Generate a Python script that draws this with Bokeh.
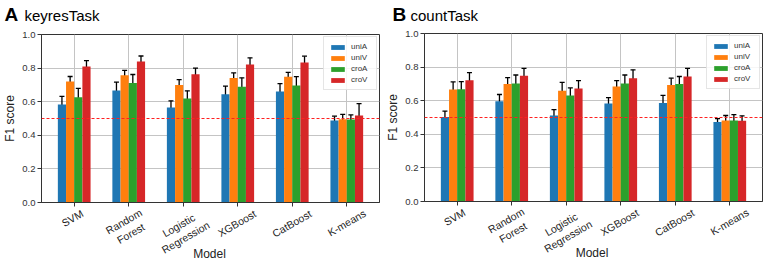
import math

from bokeh.core.properties import value
from bokeh.embed import file_html
from bokeh.layouts import column, row
from bokeh.models import (ColumnDataSource, FixedTicker, PrintfTickFormatter,
                          Range1d, Span, TeeHead, Whisker)
from bokeh.plotting import figure
from bokeh.resources import INLINE
from bokeh.transform import dodge

# ---------------------------------------------------------------- data
models = ["SVM", "Random\nForest", "Logistic\nRegression", "XGBoost", "CatBoost", "K-means"]
series = ["uniA", "uniV", "croA", "croV"]
series_colors = ["#1f77b4", "#ff7f0e", "#2ca02c", "#d62728"]
y_ticks = [0.0, 0.2, 0.4, 0.6, 0.8, 1.0]
chance_level = 0.5

# keyresTask: mean F1 and error per model
keyres_uniA = [0.584, 0.667, 0.565, 0.645, 0.661, 0.488]
keyres_uniA_err = [0.048, 0.050, 0.040, 0.048, 0.046, 0.026]
keyres_uniV = [0.720, 0.757, 0.700, 0.741, 0.748, 0.496]
keyres_uniV_err = [0.030, 0.029, 0.031, 0.030, 0.026, 0.028]
keyres_croA = [0.626, 0.712, 0.619, 0.689, 0.697, 0.494]
keyres_croA_err = [0.053, 0.050, 0.046, 0.053, 0.052, 0.027]
keyres_croV = [0.810, 0.839, 0.764, 0.821, 0.833, 0.518]
keyres_croV_err = [0.034, 0.033, 0.036, 0.040, 0.038, 0.070]

# countTask: mean F1 and error per model
count_uniA = [0.503, 0.597, 0.512, 0.583, 0.587, 0.473]
count_uniA_err = [0.035, 0.040, 0.035, 0.035, 0.045, 0.020]
count_uniV = [0.667, 0.700, 0.659, 0.685, 0.694, 0.482]
count_uniV_err = [0.045, 0.037, 0.050, 0.035, 0.040, 0.030]
count_croA = [0.668, 0.703, 0.631, 0.703, 0.699, 0.482]
count_croA_err = [0.045, 0.050, 0.045, 0.050, 0.045, 0.035]
count_croV = [0.722, 0.748, 0.673, 0.734, 0.744, 0.480]
count_croV_err = [0.045, 0.045, 0.047, 0.050, 0.048, 0.030]

FONT = "Liberation Sans"
BAR_W = 0.15
OFFSETS = [(k - 1.5) * BAR_W for k in range(len(series))]
XLAB_FS = 10.5
FRAME_H = 168
MAIN_TOP = 6
MAIN_BOTTOM = 5
LETTER_FS = 19
NAME_FS = 15
HEAD_BASELINE = 20.5


def text_width(s, fs):
    """Rough Arial-like width of one line of text, in px."""
    w = 0.0
    for c in s:
        if c in "iljtfr-I":
            w += 0.30
        elif c.isupper() or c in "mw":
            w += 0.72
        else:
            w += 0.53
    return w * fs


def blank_figure(width, height, x_range, y_range, left=0, right=0):
    f = figure(width=width, height=height, output_backend="svg", toolbar_location=None,
               x_range=x_range, y_range=y_range, x_axis_type=None, y_axis_type=None,
               title=None, min_border_left=left, min_border_right=right,
               min_border_top=0, min_border_bottom=0, frame_align=False)
    f.outline_line_color = None
    f.background_fill_color = "white"
    f.border_fill_color = "white"
    return f


def make_panel(letter, name, means, errs, width, left, right, head_h,
               letter_x, name_x):
    main_h = MAIN_TOP + FRAME_H + MAIN_BOTTOM
    foot_h = 261 - head_h - main_h

    # ---- heading: bold panel letter + task name (y counted down from the top)
    head = blank_figure(width, head_h, Range1d(0, width), Range1d(head_h, 0))
    head.text(x=[letter_x], y=[HEAD_BASELINE - 0.35 * LETTER_FS], text=[letter],
              text_font=value(FONT), text_font_style="bold",
              text_font_size=f"{LETTER_FS}px", text_baseline="middle",
              text_color="black")
    head.text(x=[name_x], y=[HEAD_BASELINE - 0.35 * NAME_FS], text=[name],
              text_font=value(FONT), text_font_size=f"{NAME_FS}px",
              text_baseline="middle", text_color="black")

    # ---- bar chart
    p = figure(width=width, height=main_h, output_backend="svg", toolbar_location=None,
               title=None, x_range=Range1d(-0.6, len(models) - 0.4), y_range=Range1d(0, 1),
               min_border_left=left, min_border_right=right,
               min_border_top=MAIN_TOP, min_border_bottom=MAIN_BOTTOM, frame_align=False)
    p.background_fill_color = "white"
    p.border_fill_color = "white"
    p.outline_line_color = "#333333"

    p.xaxis.ticker = FixedTicker(ticks=list(range(len(models))))
    p.xaxis.major_label_overrides = {i: "" for i in range(len(models))}
    p.xaxis.major_label_text_font_size = "1px"
    p.xaxis.major_label_standoff = 0
    p.yaxis.ticker = FixedTicker(ticks=y_ticks)
    p.yaxis.formatter = PrintfTickFormatter(format="%.1f")
    for ax in (p.xaxis, p.yaxis):
        ax.axis_line_color = "#333333"
        ax.major_tick_line_color = "#333333"
        ax.major_tick_out = 4
        ax.major_tick_in = 0
        ax.minor_tick_line_color = None
    p.yaxis.major_label_text_font = FONT
    p.yaxis.major_label_text_font_size = "9.5px"
    p.yaxis.major_label_text_color = "#333333"
    p.yaxis.major_label_standoff = 2
    p.yaxis.axis_label = "F1 score"
    p.yaxis.axis_label_text_font = FONT
    p.yaxis.axis_label_text_font_size = "12px"
    p.yaxis.axis_label_text_font_style = "normal"
    p.yaxis.axis_label_text_color = "#222222"
    p.yaxis.axis_label_standoff = 2
    p.xgrid.grid_line_color = "#c4c4c4"
    p.ygrid.grid_line_color = "#c4c4c4"

    src = {"idx": list(range(len(models)))}
    for s, m, e in zip(series, means, errs):
        src[s] = m
        src[s + "_lo"] = [a - b for a, b in zip(m, e)]
        src[s + "_hi"] = [a + b for a, b in zip(m, e)]
    source = ColumnDataSource(src)

    for s, c, off in zip(series, series_colors, OFFSETS):
        p.vbar(x=dodge("idx", off, range=p.x_range), top=s, width=BAR_W, bottom=0,
               source=source, fill_color=c, line_color=None, legend_label=s)
    for s, off in zip(series, OFFSETS):
        p.add_layout(Whisker(source=source, base=dodge("idx", off, range=p.x_range),
                             lower=s + "_lo", upper=s + "_hi",
                             line_color="black", line_width=1.3,
                             upper_head=TeeHead(size=5, line_color="black", line_width=1.3),
                             lower_head=TeeHead(size=5, line_color="black", line_width=1.3)))

    p.add_layout(Span(location=chance_level, dimension="width", line_color="#ff2020",
                      line_width=1, line_dash="3 2"))

    lg = p.legend[0]
    lg.location = "top_right"
    lg.margin = 2
    lg.padding = 5
    lg.spacing = 2
    lg.glyph_width = 17
    lg.glyph_height = 6
    lg.label_height = 9
    lg.label_standoff = 5
    lg.label_text_font = FONT
    lg.label_text_font_size = "8px"
    lg.label_text_color = "#333333"
    lg.border_line_color = "#cccccc"
    lg.background_fill_alpha = 0.85

    # ---- rotated category names and the x-axis title, sharing the bar x scale
    foot = blank_figure(width, foot_h, p.x_range, Range1d(-foot_h, 0), left, right)
    ang = math.radians(30)
    ys = []
    for m in models:
        lines = m.split("\n")
        w = max(text_width(t, XLAB_FS) for t in lines)
        h = XLAB_FS * (1.2 * (len(lines) - 1) + 1.0)
        rot_h = w * math.sin(ang) + h * math.cos(ang)
        ys.append(-(0.5 + rot_h / 2))
    foot.text(x=list(range(len(models))), y=ys, text=models, angle=ang,
              text_align="center", text_baseline="middle", text_font=value(FONT),
              text_font_size=f"{XLAB_FS}px", text_color="#222222", text_line_height=1.15)
    foot.text(x=[(len(models) - 1) / 2], y=[-46], text=["Model"], text_align="center",
              text_baseline="middle", text_font=value(FONT), text_font_size="12px",
              text_color="#222222")

    return column(head, p, foot, spacing=0)


left_panel = make_panel(
    "A", "keyresTask",
    [keyres_uniA, keyres_uniV, keyres_croA, keyres_croV],
    [keyres_uniA_err, keyres_uniV_err, keyres_croA_err, keyres_croV_err],
    width=383, left=39, right=4, head_h=28, letter_x=4, name_x=24)

right_panel = make_panel(
    "B", "countTask",
    [count_uniA, count_uniV, count_croA, count_croV],
    [count_uniA_err, count_uniV_err, count_croA_err, count_croV_err],
    width=384, left=38, right=5, head_h=27, letter_x=9, name_x=27)

layout = row(left_panel, right_panel, spacing=0)
open("out.html", "w").write(file_html(layout, INLINE))
